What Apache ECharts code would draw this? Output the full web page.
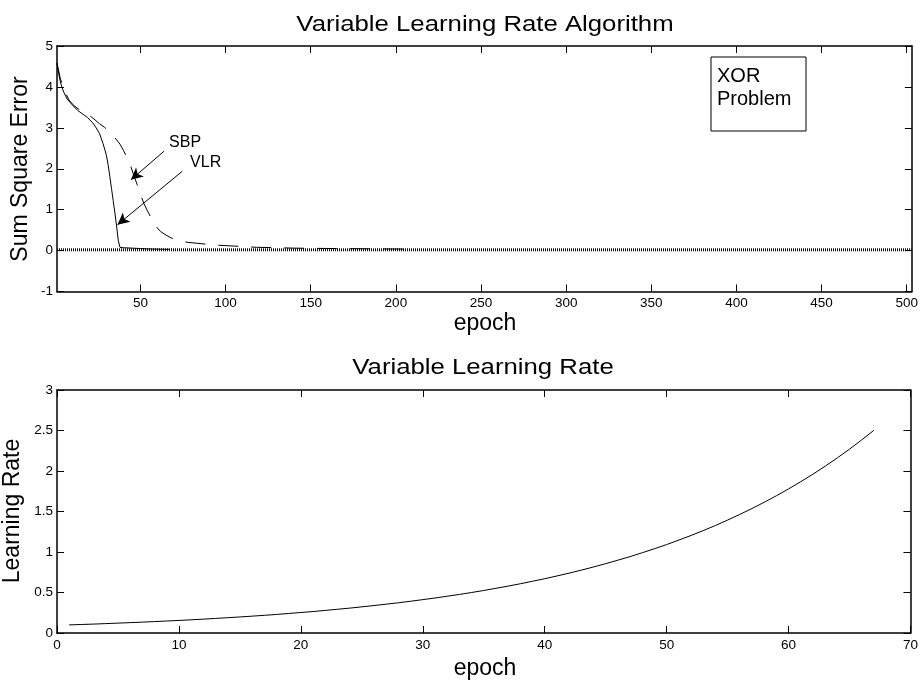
<!DOCTYPE html>
<html>
<head>
<meta charset="utf-8">
<script src="https://cdn.jsdelivr.net/npm/echarts@6/dist/echarts.min.js"></script>
<style>
  html, body { margin: 0; padding: 0; background: #fff; }
  #chart { width: 921px; height: 680px; }
</style>
</head>
<body>
<div id="chart"></div>
<script>
// ---- Sum square error per epoch (XOR problem) ----
const vlrEpochs = [1, 2, 3, 4, 5, 7, 10, 13, 16, 19, 22, 24, 26, 28, 29, 30, 31, 32, 33, 34, 35, 36, 37, 38, 40, 45, 50, 55, 60, 67];
const vlrErrors = [4.58, 4.32, 4.12, 3.98, 3.87, 3.70, 3.56, 3.43, 3.34, 3.25, 3.12, 3.00, 2.86, 2.62, 2.48, 2.33, 2.10, 1.82, 1.52, 1.22, 0.92, 0.60, 0.24, 0.08, 0.07, 0.06, 0.05, 0.04, 0.035, 0.03];

const sbpEpochs = [1, 3, 5, 8, 11, 14, 18, 22, 26, 29, 32, 35, 38, 40, 42, 44, 46, 48, 50, 52, 54, 56, 58, 60, 62, 65, 68, 71, 74, 78, 83, 90, 96, 105, 110, 118, 130, 140, 150, 165, 180, 195, 210];
const sbpErrors = [4.58, 4.20, 3.95, 3.68, 3.54, 3.45, 3.36, 3.24, 3.10, 3.01, 2.90, 2.76, 2.60, 2.45, 2.28, 2.10, 1.85, 1.62, 1.38, 1.15, 0.98, 0.82, 0.67, 0.55, 0.46, 0.38, 0.31, 0.27, 0.23, 0.20, 0.18, 0.15, 0.13, 0.11, 0.10, 0.08, 0.07, 0.06, 0.055, 0.05, 0.045, 0.04, 0.035];

// error goal drawn across the whole epoch range
const goalEpochs = [1, 503];
const goalErrors = [0.02, 0.02];

// ---- Learning rate of the VLR run, epochs 1..67 ----
const lrValues = [0.100, 0.105, 0.110, 0.116, 0.122, 0.128, 0.134, 0.141, 0.148, 0.155,
                  0.163, 0.171, 0.180, 0.189, 0.198, 0.208, 0.218, 0.229, 0.241, 0.253,
                  0.265, 0.279, 0.293, 0.307, 0.323, 0.339, 0.356, 0.373, 0.392, 0.412,
                  0.432, 0.454, 0.476, 0.500, 0.525, 0.552, 0.579, 0.608, 0.639, 0.670,
                  0.704, 0.739, 0.776, 0.815, 0.856, 0.899, 0.943, 0.991, 1.040, 1.092,
                  1.147, 1.204, 1.264, 1.327, 1.394, 1.464, 1.537, 1.614, 1.694, 1.779,
                  1.868, 1.961, 2.059, 2.162, 2.270, 2.384, 2.503];

// ---- Tick values ----
const errEpochTicks = [50, 100, 150, 200, 250, 300, 350, 400, 450, 500];

const FONT = '"Liberation Sans", Arial, Helvetica, sans-serif';
const zip = (xs, ys) => xs.map((x, i) => [x, ys[i]]);

const chart = echarts.init(document.getElementById('chart'), null, { renderer: 'canvas' });

const axisLine = { show: true, onZero: false, lineStyle: { color: '#000', width: 1.5 } };
const tickIn = { show: true, inside: true, length: 7, lineStyle: { color: '#000', width: 1 } };
const tickLabel = { color: '#000', fontSize: 13.5, fontFamily: FONT };

const option = {
  animation: false,
  backgroundColor: '#fff',
  grid: [
    { left: 57, right: 7, top: 46, height: 245.5, containLabel: false },
    { left: 57, right: 7, top: 390, height: 243, containLabel: false }
  ],
  xAxis: [
    { type: 'value', gridIndex: 0, position: 'bottom', min: 1, max: 503,
      axisLine, axisTick: Object.assign({}, tickIn, { customValues: errEpochTicks }),
      axisLabel: Object.assign({}, tickLabel, { margin: 5, customValues: errEpochTicks }),
      splitLine: { show: false } },
    { type: 'value', gridIndex: 0, position: 'top', min: 1, max: 503,
      axisLine, axisTick: Object.assign({}, tickIn, { customValues: errEpochTicks }),
      axisLabel: { show: false }, splitLine: { show: false } },
    { type: 'value', gridIndex: 1, position: 'bottom', min: 0, max: 70, interval: 10,
      axisLine, axisTick: tickIn,
      axisLabel: Object.assign({}, tickLabel, { margin: 5 }),
      splitLine: { show: false } },
    { type: 'value', gridIndex: 1, position: 'top', min: 0, max: 70, interval: 10,
      axisLine, axisTick: tickIn, axisLabel: { show: false }, splitLine: { show: false } }
  ],
  yAxis: [
    { type: 'value', gridIndex: 0, position: 'left', min: -1, max: 5, interval: 1,
      axisLine, axisTick: tickIn,
      axisLabel: Object.assign({}, tickLabel, { margin: 4 }),
      splitLine: { show: false } },
    { type: 'value', gridIndex: 0, position: 'right', min: -1, max: 5, interval: 1,
      axisLine, axisTick: tickIn, axisLabel: { show: false }, splitLine: { show: false } },
    { type: 'value', gridIndex: 1, position: 'left', min: 0, max: 3, interval: 0.5,
      axisLine, axisTick: tickIn,
      axisLabel: Object.assign({}, tickLabel, { margin: 4 }),
      splitLine: { show: false } },
    { type: 'value', gridIndex: 1, position: 'right', min: 0, max: 3, interval: 0.5,
      axisLine, axisTick: tickIn, axisLabel: { show: false }, splitLine: { show: false } }
  ],
  series: [
    {
      name: 'goal', type: 'line', xAxisIndex: 0, yAxisIndex: 0,
      data: zip(goalEpochs, goalErrors),
      symbol: 'none', silent: true,
      lineStyle: { color: '#111', width: 3, type: [1, 1] }
    },
    {
      name: 'SBP', type: 'line', xAxisIndex: 0, yAxisIndex: 0,
      data: zip(sbpEpochs, sbpErrors),
      symbol: 'none', silent: true,
      lineStyle: { color: '#000', width: 1, type: [20, 13] },
      markLine: {
        silent: true, animation: false,
        symbol: ['none', 'arrow'], symbolSize: [9, 12],
        lineStyle: { color: '#000', width: 1, type: 'solid' },
        label: { show: false },
        data: [[{ coord: [63.9, 2.43] }, { coord: [44.4, 1.73] }]]
      },
      markPoint: {
        silent: true, symbol: 'rect', symbolSize: 1,
        itemStyle: { color: 'rgba(0,0,0,0)' },
        label: { show: true, position: 'inside', color: '#000', fontSize: 16, fontFamily: FONT, formatter: 'SBP' },
        data: [{ coord: [76.2, 2.65] }]
      }
    },
    {
      name: 'VLR', type: 'line', xAxisIndex: 0, yAxisIndex: 0,
      data: zip(vlrEpochs, vlrErrors),
      symbol: 'none', silent: true,
      lineStyle: { color: '#000', width: 1 },
      markLine: {
        silent: true, animation: false,
        symbol: ['none', 'arrow'], symbolSize: [9, 12],
        lineStyle: { color: '#000', width: 1, type: 'solid' },
        label: { show: false },
        data: [[{ coord: [74.6, 1.94] }, { coord: [36.5, 0.63] }]]
      },
      markPoint: {
        silent: true, symbol: 'rect', symbolSize: 1,
        itemStyle: { color: 'rgba(0,0,0,0)' },
        label: { show: true, position: 'inside', color: '#000', fontSize: 16, fontFamily: FONT, formatter: 'VLR' },
        data: [{ coord: [88.3, 2.16] }]
      }
    },
    {
      name: 'Learning Rate', type: 'line', xAxisIndex: 2, yAxisIndex: 2,
      data: lrValues.map((v, i) => [i + 1, v]),
      symbol: 'none', silent: true,
      lineStyle: { color: '#000', width: 1 }
    }
  ],
  graphic: [
    // titles
    { type: 'text', x: 485, y: 24.5, scaleX: 1.17, silent: true,
      style: { text: 'Variable Learning Rate Algorithm', fontSize: 22, fontFamily: FONT, fill: '#000', align: 'center', verticalAlign: 'middle' } },
    { type: 'text', x: 483, y: 367.5, scaleX: 1.17, silent: true,
      style: { text: 'Variable Learning Rate', fontSize: 22, fontFamily: FONT, fill: '#000', align: 'center', verticalAlign: 'middle' } },
    // axis names
    { type: 'text', x: 485, y: 324, silent: true,
      style: { text: 'epoch', fontSize: 23, fontFamily: FONT, fill: '#000', align: 'center', verticalAlign: 'middle' } },
    { type: 'text', x: 485, y: 668.5, silent: true,
      style: { text: 'epoch', fontSize: 23, fontFamily: FONT, fill: '#000', align: 'center', verticalAlign: 'middle' } },
    { type: 'text', x: 21, y: 169, rotation: Math.PI / 2, silent: true,
      style: { text: 'Sum Square Error', fontSize: 23, fontFamily: FONT, fill: '#000', align: 'center', verticalAlign: 'middle' } },
    { type: 'text', x: 13, y: 511, rotation: Math.PI / 2, silent: true,
      style: { text: 'Learning Rate', fontSize: 23, fontFamily: FONT, fill: '#000', align: 'center', verticalAlign: 'middle' } },
    // problem label box
    { type: 'rect', x: 711, y: 57, silent: true, z: 10,
      shape: { width: 95, height: 74 },
      style: { fill: '#fff', stroke: '#000', lineWidth: 1 } },
    { type: 'text', x: 717, y: 76.5, silent: true, z: 11,
      style: { text: 'XOR', fontSize: 20, fontFamily: FONT, fill: '#000', align: 'left', verticalAlign: 'middle' } },
    { type: 'text', x: 717, y: 99, silent: true, z: 11,
      style: { text: 'Problem', fontSize: 20, fontFamily: FONT, fill: '#000', align: 'left', verticalAlign: 'middle' } }
  ]
};

chart.setOption(option);
</script>
</body>
</html>
